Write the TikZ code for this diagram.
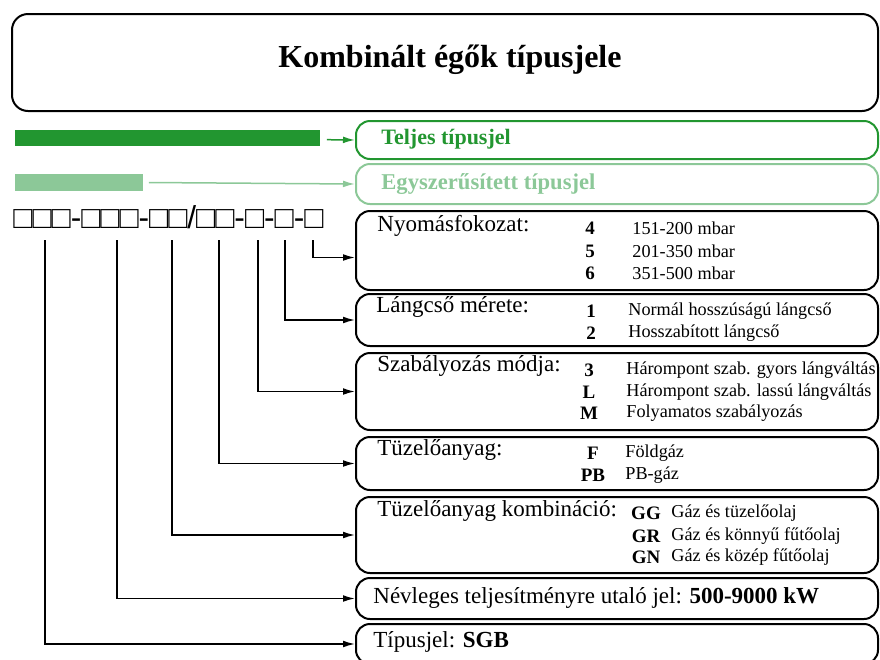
\documentclass[tikz,border=0pt]{standalone}
\usepackage{fontspec}
\setmainfont{Liberation Serif}
\newfontfamily\symfont{Liberation Sans}
\usepackage{graphicx}
\usepackage{tikz}
\usetikzlibrary{arrows.meta}
\usepackage{xcolor}

\definecolor{darkgreen}{RGB}{34,150,48}
\definecolor{lightgreen}{RGB}{140,200,152}

\tikzset{
  box/.style={draw, line width=1pt, rounded corners=7pt, anchor=north west,
    inner sep=0pt, minimum width=261pt},
  headtext/.style={anchor=west, inner sep=0pt, font=\fontsize{11.5}{13}\selectfont},
  codetext/.style={inner sep=0pt, font=\bfseries\fontsize{9.5}{11}\selectfont},
  desctext/.style={anchor=west, inner sep=0pt, font=\fontsize{9.1}{11}\selectfont},
  conn/.style={line width=0.75pt, -{Latex[length=6pt,width=3.4pt]}},
}

\begin{document}
\begin{tikzpicture}[x=0.5pt, y=-0.5pt]
  \useasboundingbox (0,0) rectangle (880,660);
  \clip (0,0) rectangle (880,660);

  % Title
  \node[box, rounded corners=8pt, minimum width=433pt, minimum height=48.5pt] (titlebox) at (11,13) {};
  \node[font=\bfseries\fontsize{16}{19}\selectfont] (title) at (450,60) {Kombinált égők típusjele};

  % Green bars and boxes
  \node[box, draw=darkgreen, minimum height=19pt] (teljes) at (355,120) {};
  \node[box, draw=lightgreen, minimum height=20pt] (egysz) at (355,163) {};
  \node[headtext, font=\bfseries\fontsize{11}{13}\selectfont, text=darkgreen] (teljestxt) at (381,139) {Teljes típusjel};
  \node[headtext, font=\bfseries\fontsize{11.3}{13}\selectfont, text=lightgreen] (egysztxt) at (381,184) {Egyszerűsített típusjel};
  \node[fill=darkgreen, anchor=west, inner sep=0pt, minimum width=152.5pt, minimum height=8pt] (fullbar) at (15,138) {};
  \node[fill=lightgreen, anchor=west, inner sep=0pt, minimum width=64pt, minimum height=8.5pt] (shortbar) at (15,182) {};
  \draw[conn, darkgreen, shorten <=3pt] (fullbar) -- (teljes.west);
  \draw[conn, lightgreen, shorten <=2.5pt] (shortbar) -- (egysz.west);

  % Code pattern
  \node[anchor=west, inner sep=0pt] (code) at (13,217)
    {\resizebox{155pt}{!}{\symfont □□□-□□□-□□/□□-□-□-□}};

  % Boxes
  \node[box, minimum height=39.5pt] (nyom) at (355,210) {};
  \node[box, minimum height=26pt] (lang) at (355,293) {};
  \node[box, minimum height=38.5pt] (szab) at (355,352) {};
  \node[box, minimum height=26.5pt] (tuz) at (355,436) {};
  \node[box, minimum height=38pt] (komb) at (355,496) {};
  \node[box, minimum height=20.5pt] (nevl) at (355,577) {};
  \node[box, minimum height=20pt] (tipus) at (355,623) {};

  % Texts
  \node[headtext] (nyomtxt) at (377,226) {Nyomásfokozat:};
  \node[codetext] (n4) at (590,228) {4};
  \node[codetext] (n5) at (590,251) {5};
  \node[codetext] (n6) at (590,273) {6};
  \node[desctext] (d4) at (632,228) {151-200 mbar};
  \node[desctext] (d5) at (632,251) {201-350 mbar};
  \node[desctext] (d6) at (632,273) {351-500 mbar};

  \node[headtext] (langtxt) at (376,307) {Lángcső mérete:};
  \node[codetext] (l1) at (591,311) {1};
  \node[codetext] (l2) at (591,333) {2};
  \node[desctext] (dl1) at (628,311) {Normál hosszúságú lángcső};
  \node[desctext] (dl2) at (628,333) {Hosszabított lángcső};

  \node[headtext] (szabtxt) at (377,366) {Szabályozás módja:};
  \node[codetext] (s3) at (589,370) {3};
  \node[codetext] (sl) at (589,392) {L};
  \node[codetext] (sm) at (589,413) {M};
  \node[desctext] (ds3) at (626,370) {Hárompont szab. gyors lángváltás};
  \node[desctext] (dsl) at (626,392) {Hárompont szab. lassú lángváltás};
  \node[desctext] (dsm) at (626,413) {Folyamatos szabályozás};

  \node[headtext] (tuztxt) at (377,450) {Tüzelőanyag:};
  \node[codetext] (tf) at (593,453) {F};
  \node[codetext] (tpb) at (593,475) {PB};
  \node[desctext] (dtf) at (625,453) {Földgáz};
  \node[desctext] (dtpb) at (625,475) {PB-gáz};

  \node[headtext] (kombtxt) at (377,511) {Tüzelőanyag kombináció:};
  \node[codetext] (kgg) at (646,513) {GG};
  \node[codetext] (kgr) at (646,536) {GR};
  \node[codetext] (kgn) at (646,557) {GN};
  \node[desctext] (dkgg) at (671,513) {Gáz és tüzelőolaj};
  \node[desctext] (dkgr) at (671,536) {Gáz és könnyű fűtőolaj};
  \node[desctext] (dkgn) at (671,557) {Gáz és közép fűtőolaj};

  \node[headtext] (nevltxt) at (373,598) {Névleges teljesítményre utaló jel: \textbf{500-9000 kW}};
  \node[headtext] (tipustxt) at (373,642) {Típusjel: \textbf{SGB}};

  % Connectors
  \coordinate (c1) at (45,240);
  \coordinate (c2) at (117,240);
  \coordinate (c3) at (172,240);
  \coordinate (c4) at (219,240);
  \coordinate (c5) at (258,240);
  \coordinate (c6) at (285,240);
  \coordinate (c7) at (313,240);
  \draw[conn] (c1) |- (tipus.west);
  \draw[conn] (c2) |- (nevl.west);
  \draw[conn] (c3) |- (komb.west);
  \draw[conn] (c4) |- (tuz.west);
  \draw[conn] (c5) |- (szab.west);
  \draw[conn] (c6) |- (lang.west);
  \draw[conn] (c7) |- ([yshift=-3.5pt]nyom.west);
\end{tikzpicture}
\end{document}
